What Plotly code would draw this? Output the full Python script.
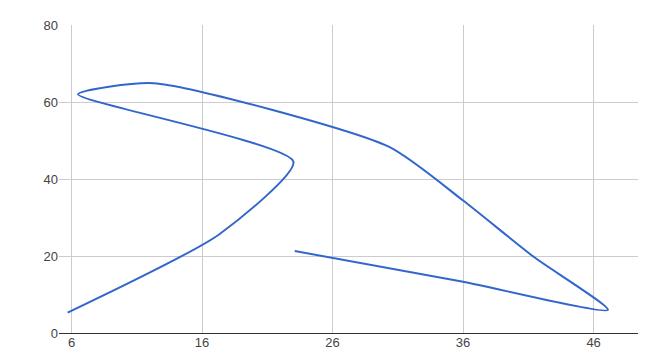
import plotly.graph_objects as go

x_vals = [5.7, 17.3, 23.0, 6.5, 12.3, 30.3, 36.0, 41.4, 47.1, 36.0, 23.1]
y_vals = [5.3, 25.6, 44.5, 62.0, 64.9, 48.4, 34.4, 19.8, 6.0, 13.3, 21.3]
x_ticks = [6, 16, 26, 36, 46]
y_ticks = [0, 20, 40, 60, 80]

fig = go.Figure()
fig.add_trace(go.Scatter(
    x=x_vals, y=y_vals, mode="lines",
    line=dict(color="#3366cc", width=2, shape="spline", smoothing=0.6),
    showlegend=False,
))
fig.update_layout(
    width=656, height=364,
    margin=dict(l=59, r=18, t=25, b=31),
    paper_bgcolor="white", plot_bgcolor="white",
    font=dict(family="Arial, Liberation Sans, sans-serif", size=13, color="#444444"),
    xaxis=dict(range=[5.04, 49.4], tickvals=x_ticks, ticktext=[str(v) for v in x_ticks],
               showgrid=True, gridcolor="#cccccc", gridwidth=1, zeroline=False,
               showline=False, ticks="", ticklen=0),
    yaxis=dict(range=[0, 80], tickvals=y_ticks, ticktext=[str(v) for v in y_ticks],
               showgrid=True, gridcolor="#cccccc", gridwidth=1,
               zeroline=True, zerolinecolor="#333333", zerolinewidth=1,
               showline=False, ticks="", ticklen=0),
)
fig.write_html("out.html")
